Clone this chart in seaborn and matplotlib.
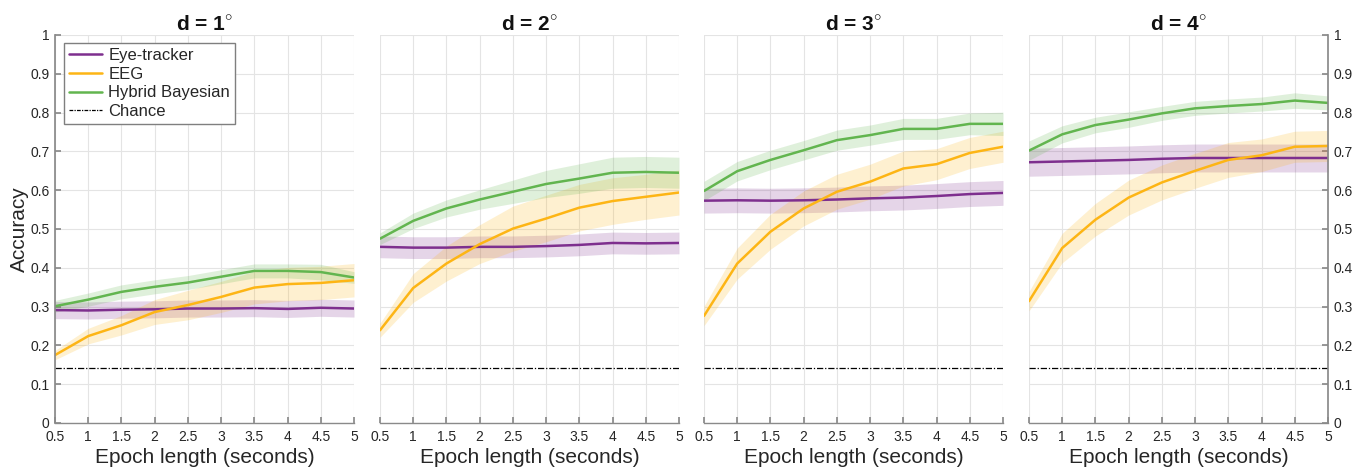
import numpy as np
import pandas as pd
import matplotlib
matplotlib.use("Agg")
import matplotlib.pyplot as plt
from matplotlib.lines import Line2D
import seaborn as sns

# ---------------- data ----------------
epochs = [0.5, 1, 1.5, 2, 2.5, 3, 3.5, 4, 4.5, 5]
panel_titles = [r"d = 1$^{\circ}$", r"d = 2$^{\circ}$", r"d = 3$^{\circ}$", r"d = 4$^{\circ}$"]
methods = ["Eye-tracker", "EEG", "Hybrid Bayesian"]
chance = 1 / 7

eye_acc = [
    [0.291, 0.290, 0.292, 0.293, 0.295, 0.295, 0.296, 0.294, 0.297, 0.295],
    [0.454, 0.452, 0.452, 0.454, 0.454, 0.456, 0.459, 0.464, 0.463, 0.464],
    [0.573, 0.574, 0.573, 0.574, 0.576, 0.579, 0.581, 0.585, 0.590, 0.593],
    [0.672, 0.674, 0.676, 0.678, 0.681, 0.683, 0.683, 0.683, 0.683, 0.683],
]
eeg_acc = [
    [0.175, 0.224, 0.252, 0.286, 0.304, 0.325, 0.349, 0.358, 0.361, 0.368],
    [0.239, 0.348, 0.411, 0.461, 0.501, 0.527, 0.555, 0.572, 0.583, 0.594],
    [0.276, 0.411, 0.493, 0.553, 0.596, 0.622, 0.656, 0.667, 0.696, 0.712],
    [0.314, 0.451, 0.524, 0.581, 0.620, 0.650, 0.678, 0.690, 0.712, 0.714],
]
hyb_acc = [
    [0.301, 0.318, 0.338, 0.351, 0.362, 0.377, 0.392, 0.392, 0.389, 0.375],
    [0.475, 0.521, 0.553, 0.576, 0.596, 0.616, 0.630, 0.645, 0.647, 0.645],
    [0.598, 0.649, 0.678, 0.703, 0.729, 0.742, 0.758, 0.758, 0.771, 0.771],
    [0.702, 0.744, 0.768, 0.782, 0.798, 0.811, 0.817, 0.822, 0.831, 0.825],
]
eye_err = [
    [0.022, 0.022, 0.022, 0.022, 0.022, 0.022, 0.022, 0.022, 0.022, 0.022],
    [0.028, 0.028, 0.028, 0.028, 0.028, 0.028, 0.028, 0.028, 0.028, 0.028],
    [0.032, 0.032, 0.032, 0.032, 0.032, 0.032, 0.032, 0.032, 0.032, 0.032],
    [0.036, 0.036, 0.036, 0.036, 0.036, 0.036, 0.036, 0.036, 0.036, 0.036],
]
eeg_err = [
    [0.012, 0.020, 0.025, 0.032, 0.038, 0.040, 0.042, 0.043, 0.043, 0.043],
    [0.018, 0.037, 0.045, 0.050, 0.058, 0.060, 0.060, 0.060, 0.058, 0.058],
    [0.025, 0.040, 0.045, 0.045, 0.045, 0.045, 0.045, 0.040, 0.040, 0.040],
    [0.025, 0.038, 0.042, 0.045, 0.045, 0.045, 0.045, 0.042, 0.040, 0.040],
]
hyb_err = [
    [0.015, 0.017, 0.018, 0.018, 0.018, 0.018, 0.018, 0.018, 0.020, 0.015],
    [0.015, 0.020, 0.022, 0.025, 0.030, 0.035, 0.038, 0.040, 0.040, 0.040],
    [0.025, 0.025, 0.025, 0.025, 0.026, 0.026, 0.027, 0.027, 0.028, 0.030],
    [0.025, 0.022, 0.020, 0.020, 0.018, 0.018, 0.018, 0.018, 0.020, 0.018],
]
x_ticks = [0.5, 1, 1.5, 2, 2.5, 3, 3.5, 4, 4.5, 5]
x_ticklabels = ["0.5", "1", "1.5", "2", "2.5", "3", "3.5", "4", "4.5", "5"]
y_ticks = [0, 0.1, 0.2, 0.3, 0.4, 0.5, 0.6, 0.7, 0.8, 0.9, 1]
y_ticklabels = ["0", "0.1", "0.2", "0.3", "0.4", "0.5", "0.6", "0.7", "0.8", "0.9", "1"]

colors = {"Eye-tracker": "#7E2F8E", "EEG": "#FDB515", "Hybrid Bayesian": "#62B54F"}

# ---------------- style ----------------
sns.set_theme(style="whitegrid")
plt.rcParams["font.family"] = ["Liberation Sans", "DejaVu Sans"]
plt.rcParams["mathtext.fontset"] = "custom"
plt.rcParams["mathtext.rm"] = "Liberation Sans"
plt.rcParams["mathtext.bf"] = "Liberation Sans:bold"

W, H = 1366, 475
fig = plt.figure(figsize=(W / 100, H / 100), dpi=100)
fig.patch.set_facecolor("white")
lefts = [55, 380, 704, 1029]
ax_w = 299
bottom_px, top_px = 423, 35
tick_fs = 10

for i in range(4):
    ax = fig.add_axes([lefts[i] / W, (H - bottom_px) / H, ax_w / W, (bottom_px - top_px) / H])
    ax.set_facecolor("white")
    rows = []
    for m, acc, err in zip(methods, [eye_acc, eeg_acc, hyb_acc], [eye_err, eeg_err, hyb_err]):
        for xv, a, e in zip(epochs, acc[i], err[i]):
            rows.append({"epoch": xv, "acc": a, "err": e, "method": m})
    df = pd.DataFrame(rows)
    for m in methods:
        sub = df[df.method == m]
        ax.fill_between(sub.epoch, sub.acc - sub.err, sub.acc + sub.err,
                        color=colors[m], alpha=0.2, linewidth=0)
    sns.lineplot(data=df, x="epoch", y="acc", hue="method", palette=colors,
                 ax=ax, legend=False, linewidth=1.8, errorbar=None)
    ax.plot([epochs[0], epochs[-1]], [chance, chance], color="black",
            linestyle=(0, (5, 1.5, 1, 1.5)), linewidth=0.9)

    ax.set_xlim(0.5, 5)
    ax.set_ylim(0, 1)
    ax.set_xticks(x_ticks)
    ax.set_xticklabels(x_ticklabels)
    ax.set_yticks(y_ticks)
    ax.grid(True, color="#e4e4e4", linewidth=0.8)
    ax.set_xlabel("Epoch length (seconds)", fontsize=15, color="#262626", labelpad=3)
    ax.set_title(panel_titles[i], fontsize=15, fontweight="bold", color="#111111", pad=3)
    for s in ax.spines.values():
        s.set_visible(False)
    ax.spines["bottom"].set_visible(True)
    ax.spines["bottom"].set_color("#8a8a8a")
    ax.spines["bottom"].set_linewidth(1.0)
    ax.tick_params(axis="x", direction="in", length=4, color="#8a8a8a",
                   labelsize=tick_fs, labelcolor="#262626", pad=5, bottom=True)
    if i == 0:
        ax.spines["left"].set_visible(True)
        ax.spines["left"].set_color("#8a8a8a")
        ax.set_yticklabels(y_ticklabels)
        ax.tick_params(axis="y", direction="in", length=4, color="#8a8a8a",
                       labelsize=tick_fs, labelcolor="#262626", left=True, pad=4)
        ax.set_ylabel("Accuracy", fontsize=15, color="#262626", labelpad=1)
        handles = [Line2D([], [], color=colors[m], linewidth=1.8) for m in methods]
        handles.append(Line2D([], [], color="black", linestyle=(0, (3, 1, 1, 1)), linewidth=0.9))
        leg = ax.legend(handles, methods + ["Chance"], loc="upper left",
                        bbox_to_anchor=(0.03, 0.979), fontsize=12, frameon=True,
                        fancybox=False, edgecolor="#7f7f7f", framealpha=1,
                        handlelength=2.0, labelspacing=0.22, borderpad=0.3,
                        handletextpad=0.35, borderaxespad=0)
        leg.get_frame().set_linewidth(1.0)
    elif i == 3:
        ax.spines["right"].set_visible(True)
        ax.spines["right"].set_color("#8a8a8a")
        ax.yaxis.tick_right()
        ax.set_yticklabels(y_ticklabels)
        ax.tick_params(axis="y", direction="in", length=4, color="#8a8a8a",
                       labelsize=tick_fs, labelcolor="#262626", right=True, left=False, pad=4)
        ax.set_ylabel("")
    else:
        ax.set_yticklabels([])
        ax.tick_params(axis="y", length=0)
        ax.set_ylabel("")

fig.savefig("out.png", dpi=100, facecolor="white")
